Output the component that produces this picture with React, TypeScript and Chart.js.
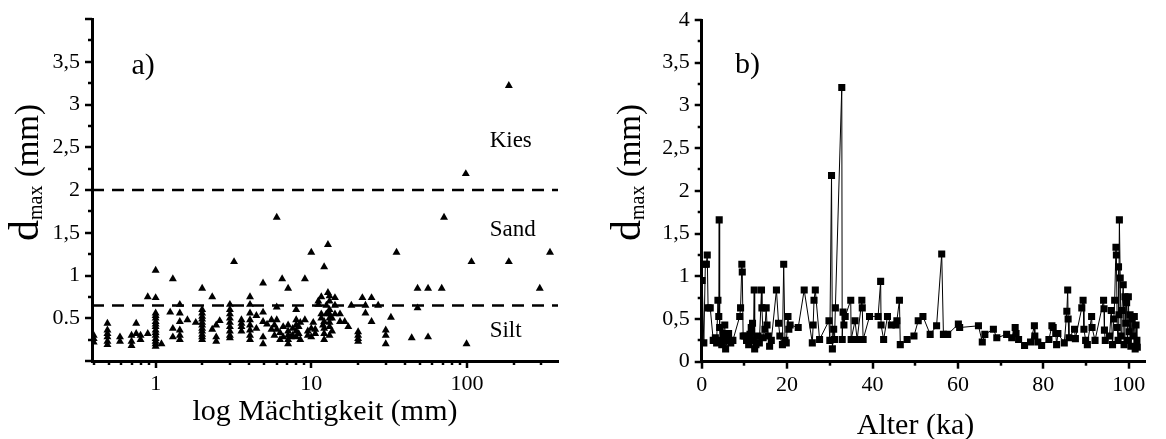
import React, { useEffect, useRef } from 'react';
import { Chart, registerables } from 'chart.js';
Chart.register(...registerables);

const FONT = "'Liberation Serif', 'Times New Roman', serif";

// ---------- Panel a) : d_max vs log thickness ----------
const thicknessCols = [
  0.4, 0.49, 0.59, 0.7, 0.75, 0.8, 0.89, 1.0, 1.09, 1.24, 1.29, 1.43, 1.6, 1.81, 1.99,
  2.31, 2.45, 2.58, 3.0, 3.19, 3.56, 4.04, 4.44, 4.9, 5.2, 5.55, 5.8, 6.0, 6.3, 6.5, 6.6, 7.1,
  7.4, 7.6, 8.0, 8.3, 8.5, 9.1, 9.5, 10.0, 10.3, 10.6, 11.1, 11.6, 11.9, 12.1, 12.5, 12.8, 13.1,
  13.6, 14.2, 15.3, 16.4, 17.3, 18.1, 20.0, 21.3, 22.3, 24.4, 26.9, 30.1, 32.5, 35.3, 44.2,
  48.2, 56.3, 68.9, 71.3, 98.4, 99.5, 107, 186, 294, 342,
];
const dmaxCols = [
  [0.22, 0.26, 0.3],
  [0.19, 0.23, 0.28, 0.32, 0.36, 0.44],
  [0.23, 0.28],
  [0.18, 0.23, 0.3],
  [0.32, 0.44],
  [0.25, 0.3],
  [0.32, 0.75],
  [0.17, 0.2, 0.23, 0.26, 0.3, 0.33, 0.36, 0.4, 0.43, 0.46, 0.5, 0.53, 0.56, 0.74, 1.06],
  [0.2],
  [0.57],
  [0.28, 0.38, 0.96],
  [0.25, 0.3, 0.36, 0.46, 0.56, 0.66],
  [0.48],
  [0.45],
  [0.25, 0.28, 0.31, 0.35, 0.38, 0.42, 0.45, 0.49, 0.52, 0.56, 0.6, 0.85],
  [0.37, 0.75],
  [0.23, 0.28, 0.42],
  [0.47],
  [0.27, 0.3, 0.35, 0.4, 0.45, 0.5, 0.55, 0.6, 0.66],
  [1.16],
  [0.35, 0.4, 0.44, 0.48],
  [0.25, 0.3, 0.36, 0.42, 0.48, 0.56, 0.66, 0.75],
  [0.38, 0.53],
  [0.2, 0.28, 0.46, 0.57, 0.91],
  [0.43],
  [0.37, 0.48],
  [0.3, 0.42],
  [0.37, 0.48, 0.63, 1.68],
  [0.25, 0.33],
  [0.96],
  [0.28, 0.4],
  [0.2, 0.25, 0.3, 0.35, 0.42, 0.85],
  [0.28],
  [0.3, 0.38],
  [0.28, 0.35, 0.42, 0.48, 0.6],
  [0.32, 0.4],
  [0.25, 0.45],
  [0.48, 0.96],
  [0.3, 0.35],
  [0.28, 0.38, 1.27],
  [0.45],
  [0.32, 0.37],
  [0.66, 0.7],
  [0.5, 0.55, 0.75],
  [0.42],
  [0.25, 0.32, 0.38, 0.46, 1.1],
  [0.55, 0.65],
  [0.8, 1.36],
  [0.3, 0.4, 0.45, 0.5, 0.55, 0.6, 0.7, 0.76],
  [0.35, 0.5],
  [0.55, 0.65, 0.74],
  [0.46, 0.55],
  [0.46],
  [0.4],
  [0.65],
  [0.23, 0.26, 0.3, 0.34],
  [0.74],
  [0.56, 0.65],
  [0.46, 0.74],
  [0.65],
  [0.2, 0.3, 0.36],
  [0.51],
  [1.27],
  [0.27],
  [0.62, 0.85],
  [0.28, 0.85],
  [0.85],
  [1.68],
  [2.19],
  [0.2],
  [1.16],
  [1.16, 3.22],
  [0.85],
  [1.27],
];
const boundaryLevels = [2, 0.65];
const zoneLabels = ['Kies', 'Sand', 'Silt'];
const zoneLabelLevels = [2.5, 1.46, 0.28];
const xTickValsA = [1, 10, 100];
const xTickLabelsA = ['1', '10', '100'];
const yTickValsA = [0, 0.5, 1, 1.5, 2, 2.5, 3, 3.5, 4];
const yTickLabelsA = ['', '0.5', '1', '1,5', '2', '2,5', '3', '3,5', ''];

// ---------- Panel b) : d_max vs age ----------
const ageKa = [
  0.1, 0.5, 0.85, 1.1, 1.3, 1.5, 2.0, 2.7, 3.2, 3.5, 3.8, 4.0, 4.1, 4.2, 4.4, 4.7, 5.0, 5.4, 5.6,
  6.0, 6.3, 6.8, 7.3, 8.9, 9.1, 9.4, 9.5, 9.7, 10.1, 10.5, 11.0, 11.3, 11.6, 11.9, 12.1, 12.3,
  12.4, 12.7, 13.2, 13.5, 14.0, 14.1, 14.4, 14.8, 15.1, 15.3, 15.6, 15.9, 16.3, 17.5, 18.0, 18.3,
  18.9, 19.2, 19.5, 19.8, 20.2, 20.4, 20.7, 22.6, 24.0, 25.9, 26.1, 26.3, 26.6, 27.6, 29.8, 30.0,
  30.4, 30.6, 30.9, 31.1, 31.3, 32.8, 32.9, 33.1, 33.3, 33.6, 34.9, 35.0, 35.9, 36.4, 37.5, 37.6,
  37.8, 39.3, 41.3, 41.9, 42.0, 42.6, 43.5, 44.4, 45.5, 45.7, 46.3, 46.5, 48.1, 49.7, 50.7, 51.8,
  53.5, 55.0, 56.2, 56.6, 57.6, 60.1, 60.4, 64.8, 65.7, 66.3, 68.3, 69.1, 71.4, 72.6, 73.4, 73.6,
  74.2, 75.6, 77.0, 77.9, 78.0, 78.7, 79.6, 81.3, 82.0, 82.3, 82.9, 83.1, 83.4, 84.9, 85.5, 85.7,
  85.8, 86.0, 87.3, 87.5, 89.0, 89.3, 89.5, 89.9, 90.3, 91.3, 91.4, 92.1, 94.1, 94.2, 94.3, 94.5,
  95.5, 95.9, 96.2, 96.5, 96.7, 97.0, 97.1, 97.3, 97.5, 97.6, 97.7, 97.8, 98.0, 98.2, 98.4, 98.7,
  98.9, 99.1, 99.3, 99.5, 99.7, 99.9, 100.1, 100.3, 100.5, 100.8, 101.0, 101.3, 101.5, 101.7,
  101.9, 102.0,
];
const dmaxB = [
  0.95, 0.22, 1.14, 1.14, 1.25, 0.63, 0.63, 0.25, 0.28, 0.22, 0.72, 0.53, 1.66, 0.4, 0.25, 0.2, 0.33, 0.43, 0.15,
  0.25, 0.33, 0.22, 0.25, 0.53, 0.63, 1.14, 1.05, 0.3, 0.3, 0.25, 0.2, 0.32, 0.4, 0.45, 0.25, 0.84,
  0.15, 0.2, 0.3, 0.22, 0.84, 0.63, 0.28, 0.38, 0.63, 0.43, 0.3, 0.18, 0.25, 0.84, 0.45, 0.3,
  0.2, 1.14, 0.25, 0.22, 0.53, 0.38, 0.43, 0.4, 0.84, 0.22, 0.43, 0.72, 0.84, 0.26, 0.48, 0.25,
  2.18, 0.15, 0.38, 0.26, 0.63, 3.21, 0.26, 0.58, 0.43, 0.53, 0.72, 0.26, 0.48, 0.26, 0.72, 0.63,
  0.26, 0.53, 0.53, 0.94, 0.43, 0.26, 0.53, 0.43, 0.43, 0.48, 0.72, 0.2, 0.26, 0.3, 0.48, 0.53,
  0.32, 0.42, 1.26, 0.32, 0.32, 0.44, 0.4, 0.42, 0.23, 0.32, 0.38, 0.28, 0.32, 0.28, 0.4, 0.33,
  0.26, 0.19, 0.23, 0.42, 0.3, 0.23, 0.19, 0.26, 0.42, 0.4, 0.33, 0.2, 0.33, 0.22, 0.59, 0.84,
  0.5, 0.28, 0.38, 0.27, 0.63, 0.72, 0.38, 0.25, 0.2, 0.53, 0.4, 0.25, 0.72, 0.62, 0.37, 0.25,
  0.3, 0.6, 0.2, 0.5, 0.72, 1.34, 1.25, 0.4, 0.25, 1.11, 0.55, 1.66, 0.98, 0.3, 0.6, 0.9,
  0.2, 0.76, 0.45, 0.69, 0.25, 0.76, 0.35, 0.55, 0.18, 0.5, 0.3, 0.53, 0.15, 0.43,
  0.25, 0.17,
];
const xTickValsB = [0, 20, 40, 60, 80, 100];
const xTickLabelsB = ['0', '20', '40', '60', '80', '100'];
const yTickValsB = [0, 0.5, 1, 1.5, 2, 2.5, 3, 3.5, 4];
const yTickLabelsB = ['0', '0,5', '1', '1,5', '2', '2,5', '3', '3,5', '4'];

const W = 583;
const H = 439;

type Deco = {
  xMajor: number[];
  xMinor: number[];
  yMajor: number[];
  yMinor: number[];
  texts: { text: string; x: number; y: number; size: number }[];
  titleX: { text: string; cx: number; base: number };
  titleY: { baseX: number; startY: number };
};

function makeDeco(cfg: Deco) {
  return {
    id: 'deco',
    afterDraw(chart: any) {
      const ctx = chart.ctx as CanvasRenderingContext2D;
      const xs = chart.scales.x;
      const ys = chart.scales.y;
      const area = chart.chartArea;
      ctx.save();
      ctx.strokeStyle = '#000';
      ctx.fillStyle = '#000';
      ctx.lineWidth = 2.5;
      const yTick = (vals: number[], len: number) => {
        for (const v of vals) {
          const py = Math.round(ys.getPixelForValue(v));
          ctx.beginPath();
          ctx.moveTo(area.left - len, py);
          ctx.lineTo(area.left, py);
          ctx.stroke();
        }
      };
      const xTick = (vals: number[], len: number) => {
        for (const v of vals) {
          const px = Math.round(xs.getPixelForValue(v));
          ctx.beginPath();
          ctx.moveTo(px, area.bottom);
          ctx.lineTo(px, area.bottom + len);
          ctx.stroke();
        }
      };
      yTick(cfg.yMajor, 7);
      yTick(cfg.yMinor, 4);
      xTick(cfg.xMajor, 7);
      xTick(cfg.xMinor, 4);

      ctx.textBaseline = 'alphabetic';
      ctx.textAlign = 'left';
      for (const t of cfg.texts) {
        ctx.font = `${t.size}px ${FONT}`;
        ctx.fillText(t.text, xs.getPixelForValue(t.x), ys.getPixelForValue(t.y));
      }
      ctx.textAlign = 'center';
      ctx.font = `30px ${FONT}`;
      ctx.fillText(cfg.titleX.text, cfg.titleX.cx, cfg.titleX.base);

      // rotated y title: d_max (mm)
      ctx.translate(cfg.titleY.baseX, cfg.titleY.startY);
      ctx.rotate(-Math.PI / 2);
      ctx.textAlign = 'left';
      ctx.font = `42px ${FONT}`;
      ctx.fillText('d', 0, 0);
      let adv = ctx.measureText('d').width;
      ctx.font = `20px ${FONT}`;
      ctx.fillText('max', adv, 4);
      adv += ctx.measureText('max').width;
      ctx.font = `33px ${FONT}`;
      ctx.fillText(' (mm)', adv, 0);
      ctx.restore();
    },
  };
}

function commonScales(left: number, bottom: number) {
  return {
    yFit: (s: any) => {
      s.width = left;
      s.paddingTop = 0;
      s.paddingBottom = 0;
    },
    xFit: (s: any) => {
      s.height = H - bottom;
      s.paddingLeft = 0;
      s.paddingRight = 0;
    },
  };
}

function range(a: number, b: number, step: number) {
  const out: number[] = [];
  for (let v = a; v <= b + 1e-9; v += step) out.push(Math.round(v * 1000) / 1000);
  return out;
}

function axisOpts(vals: number[], labels: string[], pad: number) {
  return {
    afterBuildTicks: (s: any) => {
      s.ticks = vals.map((v) => ({ value: v }));
    },
    ticks: {
      autoSkip: false,
      maxRotation: 0,
      padding: pad,
      color: '#000',
      font: { family: FONT, size: 22 },
      callback: (v: any) => {
        const i = vals.indexOf(Number(v));
        return i >= 0 ? labels[i] : '';
      },
    },
    grid: { display: true, drawOnChartArea: false, drawTicks: false },
    border: { display: true, color: '#000', width: 3 },
  };
}

export default function App() {
  const refA = useRef<HTMLCanvasElement>(null);
  const refB = useRef<HTMLCanvasElement>(null);

  useEffect(() => {
    // ----- chart a -----
    const leftA = 92;
    const rightA = 558;
    const topA = 19;
    const bottomA = 361;
    const xMinA = 0.39;
    const xMaxA = 385;
    const fitA = commonScales(leftA, bottomA);
    const pointsA: { x: number; y: number }[] = [];
    thicknessCols.forEach((x, i) => dmaxCols[i].forEach((y) => pointsA.push({ x, y })));
    const logMinor: number[] = [];
    for (const dec of [0.1, 1, 10, 100]) {
      for (let k = 2; k <= 9; k++) {
        const v = Math.round(dec * k * 1000) / 1000;
        if (v >= xMinA && v <= xMaxA) logMinor.push(v);
      }
    }
    const chartA = new Chart(refA.current!, {
      type: 'scatter',
      data: {
        datasets: [
          ...boundaryLevels.map((lv) => ({
            type: 'line' as const,
            data: [
              { x: xMinA, y: lv },
              { x: xMaxA, y: lv },
            ],
            borderColor: '#000',
            borderWidth: 2.5,
            borderDash: [12, 8],
            pointRadius: 0,
            fill: false,
          })),
          {
            data: pointsA,
            pointStyle: 'triangle',
            pointRadius: 4.6,
            backgroundColor: '#000',
            borderColor: '#000',
            borderWidth: 0,
          },
        ],
      },
      options: {
        responsive: false,
        animation: false,
        events: [],
        layout: { padding: { top: topA, right: W - rightA, left: 0, bottom: 0 } },
        plugins: { legend: { display: false }, tooltip: { enabled: false } },
        scales: {
          x: {
            type: 'logarithmic',
            min: xMinA,
            max: xMaxA,
            afterFit: fitA.xFit,
            ...axisOpts(xTickValsA, xTickLabelsA, 10),
          },
          y: {
            type: 'linear',
            min: 0,
            max: 4,
            afterFit: fitA.yFit,
            ...axisOpts(yTickValsA, yTickLabelsA, 12),
          },
        },
      },
      plugins: [
        makeDeco({
          xMajor: xTickValsA,
          xMinor: logMinor,
          yMajor: yTickValsA,
          yMinor: range(0.25, 3.75, 0.5),
          texts: [
            { text: 'a)', x: 0.7, y: 3.36, size: 30 },
            ...zoneLabels.map((t, i) => ({ text: t, x: 140, y: zoneLabelLevels[i], size: 23 })),
          ],
          titleX: { text: 'log Mächtigkeit (mm)', cx: 325, base: 420 },
          titleY: { baseX: 38, startY: 241 },
        }),
      ],
    } as any);

    // ----- chart b -----
    const leftB = 701.7 - W;
    const rightB = 1145 - W;
    const topB = 20;
    const bottomB = 361.7;
    const fitB = commonScales(leftB, bottomB);
    const pointsB = ageKa.map((x, i) => ({ x, y: dmaxB[i] }));
    const chartB = new Chart(refB.current!, {
      type: 'scatter',
      data: {
        datasets: [
          {
            data: pointsB,
            showLine: true,
            pointStyle: 'rect',
            pointRadius: 5,
            backgroundColor: '#000',
            borderColor: '#000',
            borderWidth: 1,
            pointBorderWidth: 0,
          },
        ],
      },
      options: {
        responsive: false,
        animation: false,
        events: [],
        layout: { padding: { top: topB, right: W - rightB, left: 0, bottom: 0 } },
        plugins: { legend: { display: false }, tooltip: { enabled: false } },
        scales: {
          x: {
            type: 'linear',
            min: 0,
            max: 103.8,
            afterFit: fitB.xFit,
            ...axisOpts(xTickValsB, xTickLabelsB, 10),
          },
          y: {
            type: 'linear',
            min: 0,
            max: 4,
            afterFit: fitB.yFit,
            ...axisOpts(yTickValsB, yTickLabelsB, 12),
          },
        },
      },
      plugins: [
        makeDeco({
          xMajor: xTickValsB,
          xMinor: range(10, 90, 20),
          yMajor: yTickValsB,
          yMinor: range(0.25, 3.75, 0.5),
          texts: [{ text: 'b)', x: 7.8, y: 3.38, size: 30 }],
          titleX: { text: 'Alter (ka)', cx: 915.5 - W, base: 434 },
          titleY: { baseX: 640 - W, startY: 241 },
        }),
      ],
    } as any);

    return () => {
      chartA.destroy();
      chartB.destroy();
    };
  }, []);

  return (
    <div
      style={{
        position: 'fixed',
        left: 0,
        top: 0,
        width: 1166,
        height: 439,
        background: '#fff',
        overflow: 'hidden',
      }}
    >
      <canvas
        ref={refA}
        width={W}
        height={H}
        style={{ position: 'absolute', left: 0, top: 0, width: W, height: H }}
      />
      <canvas
        ref={refB}
        width={W}
        height={H}
        style={{ position: 'absolute', left: W, top: 0, width: W, height: H }}
      />
    </div>
  );
}
